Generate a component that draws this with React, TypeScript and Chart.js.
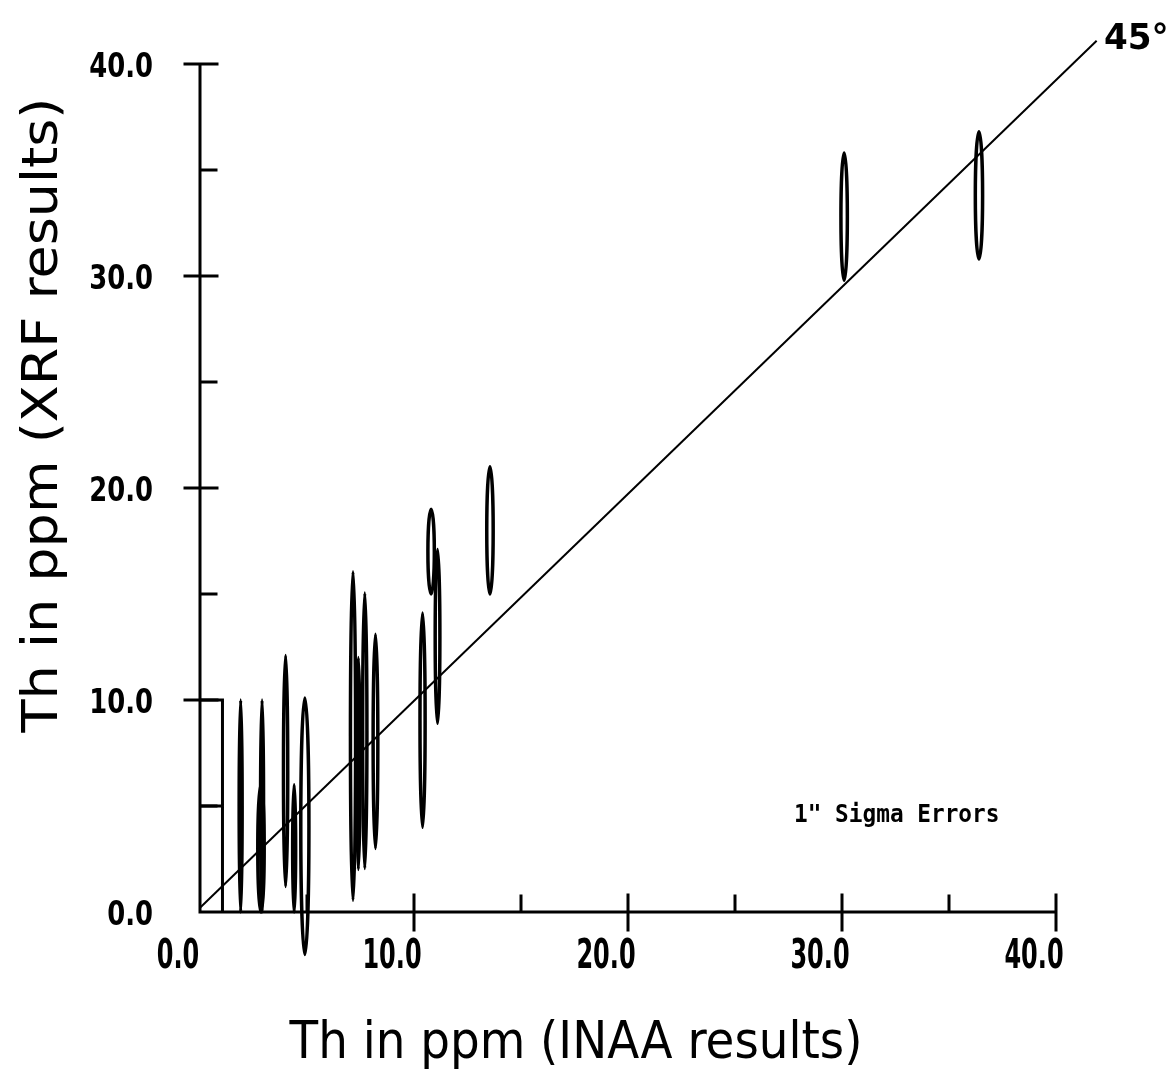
import React, { useEffect, useRef } from "react";
import { Chart, registerables } from "chart.js";

Chart.register(...registerables);

// ---- data ----
// error ellipses: INAA (x) vs XRF (y) with 1 sigma half-widths
const ellipseX = [1.9, 2.9, 2.85, 4.0, 4.4, 4.9, 7.15, 7.4, 7.7, 8.2, 10.4, 11.1, 10.8, 13.55, 30.1, 36.4];
const ellipseY = [5.0, 5.0, 3.0, 6.65, 3.0, 4.05, 8.3, 7.0, 8.55, 8.05, 9.05, 13.0, 17.0, 18.0, 32.8, 33.8];
const sigmaX = [0.07, 0.07, 0.15, 0.1, 0.07, 0.19, 0.12, 0.08, 0.1, 0.11, 0.12, 0.11, 0.15, 0.15, 0.15, 0.17];
const sigmaY = [5.0, 5.0, 3.0, 5.45, 3.0, 6.05, 7.75, 5.0, 6.5, 5.05, 5.05, 4.1, 2.0, 3.0, 3.0, 3.0];

// 45 degree reference line
const lineX = [0, 41.9];
const lineY = [0.2, 41.1];

// clipped error box at the origin
const boxX = [0, 1.05, 1.05, null, 0, 1.05];
const boxY = [10, 10, 0, null, 5, 5];

// axes
const majorTicks = [0, 10, 20, 30, 40];
const minorTicks = [5, 15, 25, 35];
const xTickLabels = ["0.0", "10.0", "20.0", "30.0", "40.0"];
const yTickLabels = ["0.0", "10.0", "20.0", "30.0", "40.0"];
const xTitle = "Th in ppm (INAA results)";
const yTitle = "Th in ppm (XRF results)";
const lineLabel = "45°";
const noteLabel = '1" Sigma Errors';

function drawText(
  ctx: CanvasRenderingContext2D,
  text: string,
  x: number,
  y: number,
  font: string,
  sx: number,
  align: CanvasTextAlign,
  baseline: CanvasTextBaseline,
  rot = 0
) {
  ctx.save();
  ctx.translate(x, y);
  if (rot) ctx.rotate(rot);
  ctx.scale(sx, 1);
  ctx.font = font;
  ctx.textAlign = align;
  ctx.textBaseline = baseline;
  ctx.fillStyle = "#000";
  ctx.fillText(text, 0, 0);
  ctx.restore();
}

const ellipsePlugin = {
  id: "ellipses",
  afterDatasetsDraw(chart: any) {
    const { ctx, scales } = chart;
    const xs = scales.x;
    const ys = scales.y;
    ctx.save();
    ctx.strokeStyle = "#000";
    ctx.lineWidth = 3.5;
    for (let i = 0; i < ellipseX.length; i++) {
      const cx = xs.getPixelForValue(ellipseX[i]);
      const cy = ys.getPixelForValue(ellipseY[i]);
      const rx = Math.abs(xs.getPixelForValue(ellipseX[i] + sigmaX[i]) - cx);
      const ry = Math.abs(ys.getPixelForValue(ellipseY[i] + sigmaY[i]) - cy);
      ctx.beginPath();
      ctx.ellipse(cx, cy, rx, ry, 0, 0, Math.PI * 2);
      ctx.stroke();
    }
    ctx.restore();
  },
};

const axesPlugin = {
  id: "customAxes",
  beforeDatasetsDraw(chart: any) {
    const { ctx, scales } = chart;
    const xs = scales.x;
    const ys = scales.y;
    const x0 = xs.getPixelForValue(0);
    const x40 = xs.getPixelForValue(40);
    const y0 = ys.getPixelForValue(0);
    const y40 = ys.getPixelForValue(40);
    ctx.save();
    ctx.strokeStyle = "#000";
    ctx.lineWidth = 3;
    ctx.lineCap = "square";
    ctx.beginPath();
    ctx.moveTo(x0, y0);
    ctx.lineTo(x40, y0);
    ctx.moveTo(x0, y0);
    ctx.lineTo(x0, y40);
    // major ticks (crossing)
    majorTicks.forEach((v) => {
      if (v === 0) return;
      const px = xs.getPixelForValue(v);
      ctx.moveTo(px, y0 - 17);
      ctx.lineTo(px, y0 + 18);
      const py = ys.getPixelForValue(v);
      ctx.moveTo(x0 - 15, py);
      ctx.lineTo(x0 + 17, py);
    });
    // minor ticks (inside)
    minorTicks.forEach((v) => {
      const px = xs.getPixelForValue(v);
      ctx.moveTo(px, y0);
      ctx.lineTo(px, y0 - 16);
      const py = ys.getPixelForValue(v);
      ctx.moveTo(x0, py);
      ctx.lineTo(x0 + 16, py);
    });
    ctx.stroke();
    ctx.restore();

    // tick labels
    majorTicks.forEach((v, i) => {
      const px = xs.getPixelForValue(v);
      drawText(ctx, xTickLabels[i], px - 22, y0 + 56, "bold 40px 'DejaVu Sans'", 0.6, "center", "alphabetic");
      const py = ys.getPixelForValue(v);
      drawText(ctx, yTickLabels[i], x0 - 47, py + 13, "bold 34px 'DejaVu Sans'", 0.76, "right", "alphabetic");
    });

    // titles
    drawText(ctx, xTitle, 576, 1058, "52px 'DejaVu Sans'", 0.9, "center", "alphabetic");
    drawText(ctx, yTitle, 57, 415, "50px 'DejaVu Sans'", 1.08, "center", "alphabetic", -Math.PI / 2);

    // annotations
    drawText(ctx, lineLabel, 1104, 49, "600 36px 'DejaVu Sans'", 0.95, "left", "alphabetic");
    drawText(ctx, noteLabel, 794, 822, "bold 25px 'DejaVu Sans Mono'", 0.91, "left", "alphabetic");
  },
};

export default function App() {
  const ref = useRef<HTMLCanvasElement | null>(null);
  useEffect(() => {
    if (!ref.current) return;
    const chart = new Chart(ref.current, {
      type: "scatter",
      data: {
        datasets: [
          {
            label: "45°",
            data: lineX.map((x, i) => ({ x, y: lineY[i] })),
            showLine: true,
            borderColor: "#000",
            borderWidth: 2,
            pointRadius: 0,
            clip: false,
          },
          {
            label: "box",
            data: boxX.map((x, i) => ({ x: x as any, y: boxY[i] as any })),
            showLine: true,
            spanGaps: false,
            borderColor: "#000",
            borderWidth: 3,
            pointRadius: 0,
            clip: false,
          },
          {
            label: "samples",
            data: ellipseX.map((x, i) => ({ x, y: ellipseY[i] })),
            pointRadius: 0,
            clip: false,
          },
        ],
      },
      options: {
        animation: false,
        responsive: false,
        maintainAspectRatio: false,
        layout: { padding: { left: 200, right: 119, top: 64, bottom: 176 } },
        plugins: { legend: { display: false }, tooltip: { enabled: false } },
        scales: {
          x: { type: "linear", min: 0, max: 40, display: false },
          y: { type: "linear", min: 0, max: 40, display: false },
        },
      },
      plugins: [axesPlugin, ellipsePlugin],
    });
    return () => chart.destroy();
  }, []);
  return (
    <div style={{ position: "absolute", left: 0, top: 0, width: 1175, height: 1088, background: "#fff" }}>
      <canvas ref={ref} width={1175} height={1088} style={{ width: 1175, height: 1088 }} />
    </div>
  );
}
